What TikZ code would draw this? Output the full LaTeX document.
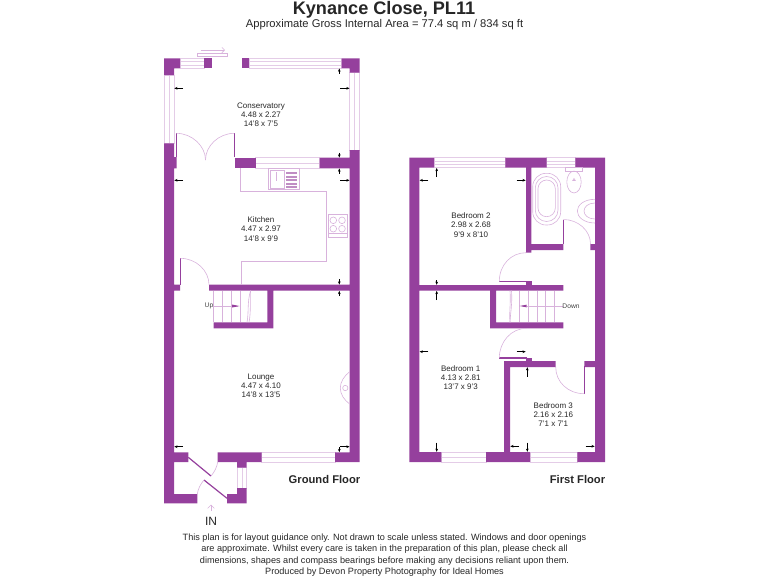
\documentclass[tikz,border=0pt]{standalone}
\usepackage{fontspec}
\setmainfont{Liberation Sans}
\usetikzlibrary{arrows.meta}
\definecolor{wallpurple}{RGB}{149,64,157}
\definecolor{linepurple}{RGB}{216,178,220}
\definecolor{glasspurple}{RGB}{228,204,231}
\tikzset{
  wall/.style={fill=wallpurple},
  window/.style={draw=glasspurple,line width=0.45pt},
  fitting/.style={draw=linepurple,line width=0.45pt},
  leaf/.style={draw=wallpurple,line width=0.9pt},
  dimarrow/.style={draw=black,line width=0.35pt,-{Stealth[length=2.4pt,width=2pt]}},
  roomlabel/.style={font=\fontsize{6}{6.9}\selectfont,align=center,text=black!85},
  floorlabel/.style={font=\fontsize{8.4}{10}\bfseries\selectfont,text=black!85}
}
\begin{document}
\begin{tikzpicture}[x=0.75pt,y=-0.75pt]
  \useasboundingbox (0,0) rectangle (768,576);
  % ground floor windows
  \draw[window] (180,58.5) rectangle (204.3,68.3);
  \draw[window] (180,61.5) -- (204.3,61.5);
  \draw[window] (180,65) -- (204.3,65);
  \draw[window] (249.3,58.5) rectangle (341.7,68.3);
  \draw[window] (249.3,61.5) -- (341.7,61.5);
  \draw[window] (249.3,65) -- (341.7,65);
  \draw[window] (164,75) rectangle (174,143);
  \draw[window] (169,75) -- (169,143);
  \draw[window] (349.7,72.7) rectangle (359.7,150);
  \draw[window] (354.7,72.7) -- (354.7,150);
  \draw[window] (255.7,157.7) rectangle (319.7,168.3);
  \draw[window] (255.7,163) -- (319.7,163);
  \draw[window] (261.7,452.3) rectangle (335,462);
  \draw[window] (261.7,457) -- (335,457);
  \draw[window] (237,467.7) rectangle (246.7,488);
  \draw[window] (241.8,467.7) -- (241.8,488);
  % sliding door
  \draw[fitting] (197.3,53.3) rectangle (227.3,56.7);
  \draw[fitting,-{Straight Barb[length=2pt]}] (200.7,50) -- (225,50);
  % ground floor walls
  \fill[wall] (164,58.3) -- (180,58.3) -- (180,68.3) -- (174,68.3) -- (174,75) -- (164,75) -- cycle;
  \fill[wall] (204.3,58.3) rectangle (212.3,68.3);
  \fill[wall] (242,58.3) rectangle (249.3,68.3);
  \fill[wall] (341.7,58.3) -- (359.7,58.3) -- (359.7,72.7) -- (349.7,72.7) -- (349.7,68.3) -- (341.7,68.3) -- cycle;
  \fill[wall] (164,143.3) -- (174,143.3) -- (174,157) -- (176.7,157) -- (176.7,168.3) -- (174,168.3) -- (174,284.7)
    -- (180,284.7) -- (180,290.7) -- (174,290.7) -- (174,452.3) -- (188.3,452.3) -- (188.3,462) -- (174,462)
    -- (174,494) -- (197.3,494) -- (197.3,503.3) -- (164,503.3) -- cycle;
  \fill[wall] (235,157.7) rectangle (255.7,168.3);
  \fill[wall] (319.7,157.7) -- (349.7,157.7) -- (349.7,150) -- (359.7,150) -- (359.7,462) -- (335,462) -- (335,452.3)
    -- (349.7,452.3) -- (349.7,290.7) -- (273.3,290.7) -- (273.3,328.3) -- (213.7,328.3) -- (213.7,322.3) -- (267.3,322.3)
    -- (267.3,290.7) -- (209,290.7) -- (209,284.7) -- (349.7,284.7) -- (349.7,168.3) -- (319.7,168.3) -- cycle;
  \fill[wall] (217.7,452.3) -- (261.7,452.3) -- (261.7,462) -- (246.7,462) -- (246.7,467.7) -- (237,467.7) -- (237,462) -- (217.7,462) -- cycle;
  \fill[wall] (237,488) -- (246.7,488) -- (246.7,503.3) -- (227,503.3) -- (227,494) -- (237,494) -- cycle;
  % ground floor doors
  \draw[leaf] (176.3,133.3) -- (176.3,157);
  \draw[leaf] (234.3,133.3) -- (234.3,157);
  \draw[fitting] (176.3,133.3) .. controls (192,133.3) and (205.5,146) .. (205.5,160);
  \draw[fitting] (234.3,133.3) .. controls (218.5,133.3) and (205.5,146) .. (205.5,160);
  \draw[leaf] (180.3,258.3) -- (180.3,285);
  \draw[fitting] (180.3,258.3) .. controls (196,258.3) and (209,270.5) .. (209,284.7);
  \draw[leaf] (188.3,457.3) -- (211,476);
  \draw[leaf] (227,498.3) -- (204,480);
  \draw[fitting] (211,476) .. controls (214.5,472) and (217,467) .. (217.7,462);
  \draw[fitting] (204,480) .. controls (200.5,484) and (198,489) .. (197.3,494);
  \draw[linepurple,line width=0.5pt,-{Straight Barb[length=2.5pt]}] (211,511) -- (211,504.5);
  % stairs
  \draw[fitting] (213.7,290.7) -- (213.7,322.3);
  \draw[fitting] (222.7,290.7) -- (222.7,322.3);
  \draw[fitting] (231.7,290.7) -- (231.7,322.3);
  \draw[fitting] (240.7,290.7) -- (240.7,322.3);
  \draw[fitting] (250.5,290.7) .. controls (247,303) and (249,312) .. (247,322.3);
  \draw[fitting] (250.5,290.7) .. controls (250,303) and (251,312) .. (249,322.3);
  \draw[fitting] (213.5,306) -- (238,306);
  \fill[wallpurple] (232,304.5) -- (239.5,306) -- (232,307.5) -- cycle;
  % kitchen units
  \draw[fitting] (240.3,168.3) -- (240.3,191.3) -- (326.3,191.3) -- (326.3,261) -- (241.3,261) -- (241.3,284.7);
  \draw[fitting] (268.3,168.3) rectangle (299.3,189.3);
  \draw[fitting] (270.5,170) rectangle (284,188);
  \draw[fitting] (276.5,172) -- (276.5,181);
  \fill[wallpurple!60] (286,172) rectangle (297,174);
  \fill[wallpurple!60] (286,175.5) rectangle (297,177.5);
  \fill[wallpurple!60] (286,179) rectangle (297,181);
  \fill[wallpurple!60] (286,182.5) rectangle (297,184.5);
  \fill[wallpurple!60] (286,186) rectangle (297,187.5);
  \draw[fitting] (328,214.3) rectangle (347.7,237.3);
  \draw[fitting] (333.3,220.3) circle[radius=2.5pt];
  \draw[fitting] (342,220.3) circle[radius=2.5pt];
  \draw[fitting] (333.3,228.7) circle[radius=2.5pt];
  \draw[fitting] (342,228.7) circle[radius=2.5pt];
  \draw[fitting] (329,233.5) -- (346.7,233.5);
  % gas fire
  \draw[fitting] (349.7,371.7) .. controls (344,376) and (340.3,382) .. (340.3,388) .. controls (340.3,394) and (344,400) .. (349.7,404);
  \draw[fitting] (345.3,388) circle[radius=2pt];
  % ground floor dimension arrows
  \draw[dimarrow] (183,88.3) -- (174.3,88.3);
  \draw[dimarrow] (340,88.3) -- (349.5,88.3);
  \draw[dimarrow] (339.3,73.5) -- (339.3,68.5);
  \draw[dimarrow] (339.3,152.7) -- (339.3,157.5);
  \draw[dimarrow] (339.3,173.5) -- (339.3,168.5);
  \draw[dimarrow] (183,180.3) -- (174.3,180.3);
  \draw[dimarrow] (340,180.3) -- (349.5,180.3);
  \draw[dimarrow] (339.3,279.3) -- (339.3,284.5);
  \draw[dimarrow] (339.3,296) -- (339.3,290.9);
  \draw[dimarrow] (183,446.7) -- (174.3,446.7);
  \draw[dimarrow] (340,446.7) -- (349.5,446.7);
  \draw[dimarrow] (339.3,447) -- (339.3,452.1);
  % first floor windows
  \draw[window] (434,157.7) rectangle (505.3,167.7);
  \draw[window] (434,161) -- (505.3,161);
  \draw[window] (434,164.5) -- (505.3,164.5);
  \draw[window] (546.7,157.7) rectangle (575.3,167.7);
  \draw[window] (546.7,161) -- (575.3,161);
  \draw[window] (546.7,164.5) -- (575.3,164.5);
  \draw[window] (441.3,452) rectangle (486,462);
  \draw[window] (441.3,457) -- (486,457);
  \draw[window] (530,452) rectangle (577.3,462);
  \draw[window] (530,457) -- (577.3,457);
  % first floor walls
  \fill[wall] (409.3,157.7) -- (434,157.7) -- (434,167.7) -- (419.3,167.7) -- (419.3,285)
    -- (563.3,285) -- (563.3,290.7) -- (496,290.7) -- (496,322.3) -- (563.3,322.3) -- (563.3,328.3) -- (490,328.3)
    -- (490,290.7) -- (419.3,290.7) -- (419.3,452) -- (441.3,452) -- (441.3,462) -- (409.3,462) -- cycle;
  \fill[wall] (505.3,157.7) -- (546.7,157.7) -- (546.7,167.7) -- (531.3,167.7) -- (531.3,244) -- (563.3,244) -- (563.3,250)
    -- (531.3,250) -- (531.3,252.7) -- (526,252.7) -- (526,167.7) -- (505.3,167.7) -- cycle;
  \fill[wall] (575.3,157.7) -- (605,157.7) -- (605,462) -- (577.3,462) -- (577.3,452) -- (595,452) -- (595,367)
    -- (584.3,367) -- (584.3,361) -- (595,361) -- (595,250) -- (590.3,250) -- (590.3,244) -- (595,244) -- (595,167.7)
    -- (575.3,167.7) -- cycle;
  \fill[wall] (504,361) -- (555.7,361) -- (555.7,367) -- (510,367) -- (510,452) -- (530,452) -- (530,462) -- (486,462)
    -- (486,452) -- (504,452) -- cycle;
  \fill[wall] (526,281) rectangle (531.7,285);
  \fill[wall] (526,357.5) rectangle (531.7,361);
  % first floor doors
  \draw[leaf] (563.5,219.5) -- (563.5,244);
  \draw[fitting] (563.5,219.5) .. controls (578,219.5) and (590.5,230.5) .. (590.5,244);
  \draw[leaf] (499.3,281.5) -- (526.5,281.5);
  \draw[fitting] (526,252.7) .. controls (511,252.7) and (499.3,265) .. (499.3,281.5);
  \draw[leaf] (499.3,358) -- (526.5,358);
  \draw[fitting] (526.5,328.3) .. controls (511,328.3) and (499.3,342) .. (499.3,358);
  \draw[leaf] (584.3,365.5) -- (584.3,393.7);
  \draw[fitting] (555.7,367) .. controls (555.7,382) and (568,393.7) .. (584.3,393.7);
  % stairs
  \draw[fitting] (510,290.7) .. controls (511,303) and (509,312) .. (510,322.3);
  \draw[fitting] (511.5,290.7) .. controls (512.5,303) and (510.5,312) .. (510,322.3);
  \draw[fitting] (519.3,290.7) -- (519.3,322.3);
  \draw[fitting] (528.3,290.7) -- (528.3,322.3);
  \draw[fitting] (537,290.7) -- (537,322.3);
  \draw[fitting] (545.7,290.7) -- (545.7,322.3);
  \draw[fitting] (554.3,290.7) -- (554.3,322.3);
  \draw[fitting] (563,306) -- (527,306);
  \fill[wallpurple] (526.5,304.7) -- (519.5,306) -- (526.5,307.3) -- cycle;
  % bathroom
  \draw[fitting,rounded corners=10pt] (532.7,173.3) rectangle (560.7,225);
  \draw[fitting,rounded corners=8.5pt] (535.3,176.5) rectangle (558,221.5);
  \draw[fitting,rounded corners=6.5pt] (538,180) rectangle (555.3,216.7);
  \draw[fitting] (565.7,167.7) rectangle (582.3,171);
  \draw[fitting] (574,182) ellipse[x radius=5.4pt,y radius=8.2pt];
  \draw[fitting] (572.7,180.5) -- (574,178.5) -- (575.3,180.5) -- cycle;
  \draw[fitting] (595,199.3) .. controls (584,199.3) and (577.3,205) .. (577.3,211) .. controls (577.3,217) and (584,223) .. (595,223);
  \draw[fitting] (595,203) .. controls (588,203) and (584,207) .. (584,211) .. controls (584,215) and (588,219) .. (595,219);
  % first floor dimension arrows
  \draw[dimarrow] (428.3,180.3) -- (419.6,180.3);
  \draw[dimarrow] (516.7,180.3) -- (525.7,180.3);
  \draw[dimarrow] (436.7,177) -- (436.7,168);
  \draw[dimarrow] (436.7,280) -- (436.7,284.8);
  \draw[dimarrow] (436.7,300) -- (436.7,290.9);
  \draw[dimarrow] (428.3,351.7) -- (419.6,351.7);
  \draw[dimarrow] (516.7,351.7) -- (525.7,351.7);
  \draw[dimarrow] (436.7,442.7) -- (436.7,451.8);
  \draw[dimarrow] (527.3,376.7) -- (527.3,367.2);
  \draw[dimarrow] (527.3,442.7) -- (527.3,451.8);
  \draw[dimarrow] (519,446.3) -- (510.3,446.3);
  \draw[dimarrow] (585.7,446.3) -- (594.7,446.3);
  % labels
  \node[font=\fontsize{13.6}{15}\bfseries\selectfont,text=black!85] (title) at (384,10) {Kynance Close, PL11};
  \node[font=\fontsize{8.4}{10}\selectfont,text=black!85] (subtitle) at (384.5,24.5) {Approximate Gross Internal Area = 77.4 sq m / 834 sq ft};
  \node[roomlabel] (conservatory) at (261,115) {Conservatory\\4.48 x 2.27\\14'8 x 7'5};
  \node[roomlabel] (kitchen) at (261,229) {Kitchen\\4.47 x 2.97\\14'8 x 9'9};
  \node[roomlabel] (lounge) at (261,385.5) {Lounge\\4.47 x 4.10\\14'8 x 13'5};
  \node[roomlabel] (bedtwo) at (471,225) {Bedroom 2\\2.98 x 2.68\\9'9 x 8'10};
  \node[roomlabel] (bedone) at (460.7,377.5) {Bedroom 1\\4.13 x 2.81\\13'7 x 9'3};
  \node[roomlabel] (bedthree) at (553.3,414.5) {Bedroom 3\\2.16 x 2.16\\7'1 x 7'1};
  \node[font=\fontsize{5}{6}\selectfont,text=black!75] (up) at (209,306) {Up};
  \node[font=\fontsize{5}{6}\selectfont,text=black!75] (down) at (571,306) {Down};
  \node[floorlabel] (ground) at (324.5,479.5) {Ground Floor};
  \node[floorlabel] (first) at (577.5,479.5) {First Floor};
  \node[font=\fontsize{9}{10}\selectfont,text=black!85] (in) at (211,521) {IN};
  \node[font=\fontsize{6.85}{8.6}\selectfont,align=center,text=black!85] (notice) at (384.5,555) {This plan is for layout guidance only. Not drawn to scale unless stated. Windows and door openings\\are approximate. Whilst every care is taken in the preparation of this plan, please check all\\dimensions, shapes and compass bearings before making any decisions reliant upon them.\\Produced by Devon Property Photography for Ideal Homes};
\end{tikzpicture}
\end{document}
